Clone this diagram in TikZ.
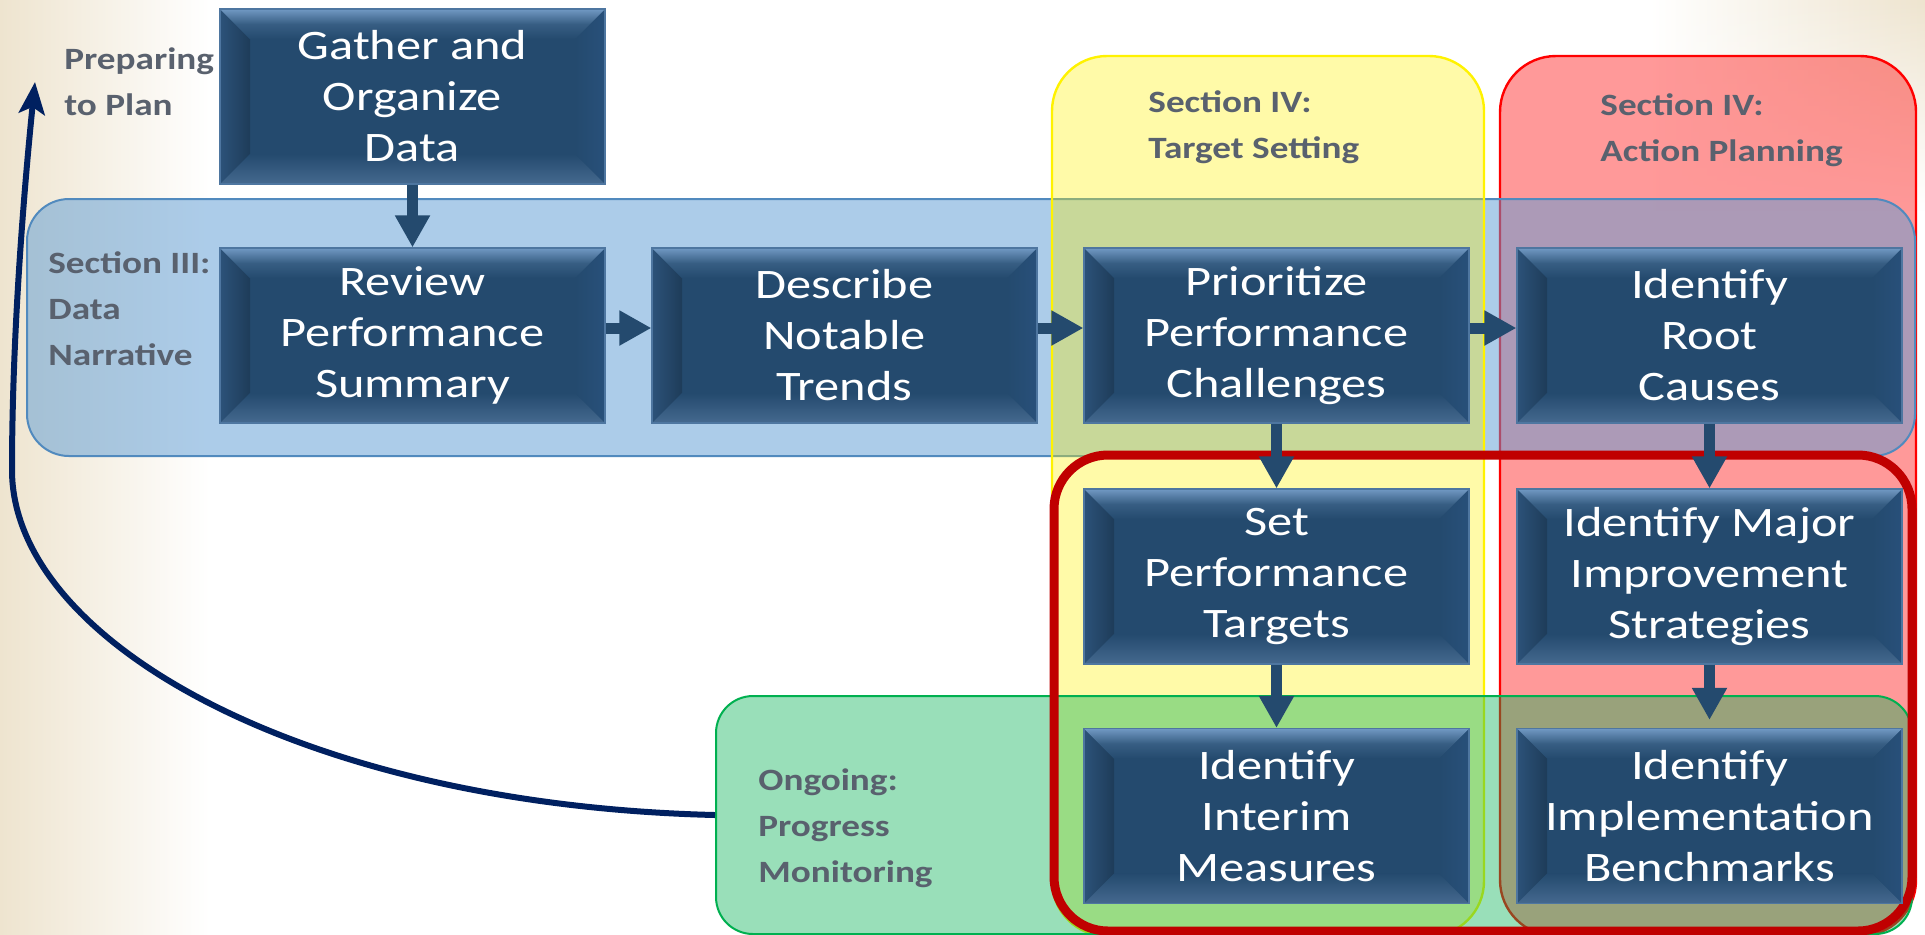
\documentclass[tikz,border=0pt]{standalone}
\usepackage{fontspec}
\setmainfont{Carlito}
\newfontfamily\boxfont[FakeStretch=1.2]{Carlito}
\newfontfamily\labfont[FakeStretch=1.2]{Carlito}
\usetikzlibrary{arrows.meta,fadings,calc}
\definecolor{boxmain}{HTML}{244A6E}
\definecolor{boxlight}{HTML}{7199C3}
\definecolor{boxdark}{HTML}{1E3C59}
\definecolor{boxedgeL}{HTML}{2C5279}
\definecolor{boxright}{HTML}{28507A}
\definecolor{boxbot}{HTML}{45698F}
\definecolor{boxline}{HTML}{4E76A0}
\definecolor{labgray}{HTML}{59616E}
\definecolor{beige}{HTML}{EEE4CF}
\definecolor{navyc}{HTML}{002060}
\definecolor{bandblue}{HTML}{5B9BD5}
\definecolor{bandedge}{HTML}{41719C}
\definecolor{greenc}{HTML}{00B050}
\definecolor{framered}{HTML}{C00000}
\tikzset{
  stepbox/.style={minimum width=192.5pt, minimum height=87.5pt, inner sep=0pt,
    fill=boxmain, draw=boxline, line width=0.6pt, text=white, align=center,
    font=\boxfont\fontsize{21}{25.5}\selectfont,
    path picture={
      \coordinate (bnw) at (path picture bounding box.north west);
      \coordinate (bne) at (path picture bounding box.north east);
      \coordinate (bsw) at (path picture bounding box.south west);
      \coordinate (bse) at (path picture bounding box.south east);
      \shade[left color=boxedgeL, right color=boxdark] (bnw) -- (bsw) -- ([shift={(15pt,15pt)}]bsw) -- ([shift={(15pt,-15pt)}]bnw) -- cycle;
      \shade[left color=boxmain, right color=boxright] (bne) -- (bse) -- ([shift={(-15pt,15pt)}]bse) -- ([shift={(-15pt,-15pt)}]bne) -- cycle;
      \shade[top color=boxmain, bottom color=boxbot] (bsw) -- (bse) -- ([shift={(-15pt,15pt)}]bse) -- ([shift={(15pt,15pt)}]bsw) -- cycle;
      \shade[top color=boxlight, bottom color=boxmain, middle color=boxmain!75!boxlight] (bnw) -- (bne) -- ([shift={(-15pt,-15pt)}]bne) -- ([shift={(15pt,-15pt)}]bnw) -- cycle;
    }},
  lab/.style={anchor=base west, align=left, inner sep=0pt, text=labgray,
    font=\labfont\bfseries\fontsize{15.5}{23}\selectfont},
  region/.style={inner sep=0pt, line width=1pt},
  arr/.style={draw=boxmain, line width=5.5pt, -{Triangle[width=16.5pt,length=16pt]}},
}
\begin{document}
\begin{tikzpicture}[x=0.5pt,y=-0.5pt]
\useasboundingbox (0,0) rectangle (1925,934);
\fill[white] (0,0) rectangle (1925,934);
\shade[left color=beige, right color=white] (0,0) rectangle (210,934);
\shade[left color=white, right color=beige, path fading=south] (1650,0) rectangle (1925,210);

% regions
\node[region, draw=red, line width=1.2pt, fill=red, fill opacity=0.4, rounded corners=28pt,
  minimum width=208pt, minimum height=440pt] (ap) at (1708,496) {};
\node[region, draw=bandblue!60!bandedge, fill=bandblue, fill opacity=0.5, rounded corners=21pt,
  minimum width=944pt, minimum height=128.5pt] (band) at (971,327.5) {};
\node[region, draw=yellow, line width=1.2pt, fill=yellow, fill opacity=0.34, rounded corners=27.5pt,
  minimum width=216pt, minimum height=440pt] (ts) at (1268,496) {};
\node[region, draw=greenc, fill=greenc, fill opacity=0.4, rounded corners=18.5pt,
  minimum width=598pt, minimum height=119pt] (ongoing) at (1314,815) {};
\node[region, draw=framered, line width=4.5pt, rounded corners=27pt,
  minimum width=429pt, minimum height=238pt] (frame) at (1483,693) {};

% labels (anchor = baseline of last line)
\node[lab] (lprep) at (64,115) {Preparing\\to Plan};
\node[lab] (ldata) at (48,365) {Section III:\\Data\\Narrative};
\node[lab] (ltarget) at (1148,158) {Section IV:\\Target Setting};
\node[lab] (laction) at (1600,161) {Section IV:\\Action Planning};
\node[lab] (lprog) at (758,882) {Ongoing:\\Progress\\Monitoring};

% boxes
\node[stepbox] (gather) at (412.5,96.5) {Gather and\\Organize\\Data};
\node[stepbox] (review) at (412.5,335.5) {Review\\Performance\\Summary};
\node[stepbox] (describe) at (844.5,335.5) {Describe\\Notable\\Trends};
\node[stepbox] (prior) at (1276.5,335.5) {Prioritize\\Performance\\Challenges};
\node[stepbox] (root) at (1709.5,335.5) {Identify\\Root\\Causes};
\node[stepbox] (settarget) at (1276.5,576.5) {Set\\Performance\\Targets};
\node[stepbox] (major) at (1709.5,576.5) {Identify Major\\Improvement\\Strategies};
\node[stepbox] (interim) at (1276.5,816) {Identify\\Interim\\Measures};
\node[stepbox] (bench) at (1709.5,816) {Identify\\Implementation\\Benchmarks};

% arrows
\draw[arr] (gather.south) -- (review.north);
\draw[arr] ([yshift=3.75pt]review.east) -- ([yshift=3.75pt]describe.west);
\draw[arr] ([yshift=3.75pt]describe.east) -- ([yshift=3.75pt]prior.west);
\draw[arr] ([yshift=3.75pt]prior.east) -- ([yshift=3.75pt]root.west);
\draw[arr] (prior.south) -- (settarget.north);
\draw[arr] (root.south) -- (major.north);
\draw[arr] (settarget.south) -- (interim.north);
\draw[arr, shorten >=4pt] (major.south) -- (bench.north);

% feedback arrow
\coordinate (prep) at (35,82);
\draw[navyc, line width=3pt, -{Stealth[width=13pt,length=16pt,inset=3.5pt]}]
  (ongoing.west) .. controls (300,805) and (12,640) .. (12,470)
  .. controls (12,330) and (25,180) .. (prep);
\end{tikzpicture}
\end{document}
